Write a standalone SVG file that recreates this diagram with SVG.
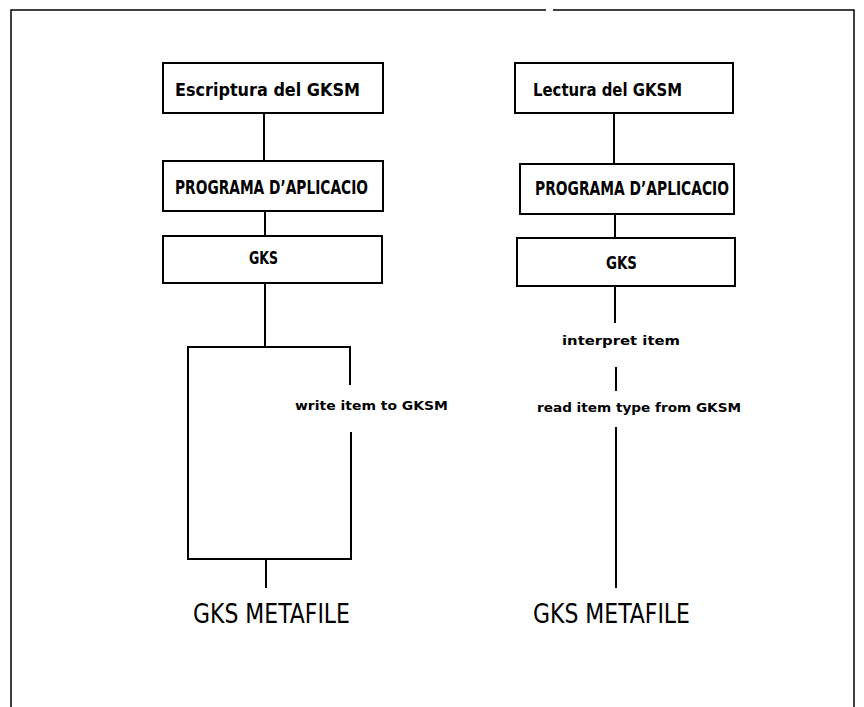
<svg xmlns="http://www.w3.org/2000/svg" width="864" height="707" viewBox="0 0 864 707">
<style>
.box{fill:#fff;stroke:#000;stroke-width:2}
.ln{fill:none;stroke:#000;stroke-width:2}
.frame{fill:none;stroke:#000;stroke-width:1.5}
.t{font-family:"DejaVu Sans Condensed","DejaVu Sans",sans-serif;font-weight:bold;fill:#000}
.big{font-family:"DejaVu Sans Condensed","DejaVu Sans",sans-serif;font-weight:normal;fill:#000;font-size:27px}
</style>
<rect width="864" height="707" fill="#fff"/>
<g id="frame">
<path class="frame" d="M11,707 V10 H546 M553,10 H854 V707"/>
</g>
<g id="connectors">
<path class="ln" d="M264,113 V161 M265,211 V236 M265,283 V347 M266,559 V588"/>
<path class="ln" d="M614,113 V164 M615,214 V238 M615,286 V323 M616,367 V391 M616,427 V588"/>
</g>
<g id="escriptura">
<rect class="box" x="163" y="63" width="220" height="50"/>
<text class="t" x="175" y="96" font-size="17" textLength="185" lengthAdjust="spacingAndGlyphs">Escriptura del GKSM</text>
</g>
<g id="programa-left">
<rect class="box" x="163" y="161" width="220" height="50"/>
<text class="t" x="175" y="194" font-size="20" textLength="193" lengthAdjust="spacingAndGlyphs">PROGRAMA D’APLICACIO</text>
</g>
<g id="gks-left">
<rect class="box" x="163" y="236" width="219" height="47"/>
<text class="t" x="249" y="264" font-size="18" textLength="29" lengthAdjust="spacingAndGlyphs">GKS</text>
</g>
<g id="write-loop">
<path class="ln" d="M350,385 V347 H188 V559 H351 V432"/>
<text class="t" x="295" y="410" font-size="13" textLength="153" lengthAdjust="spacingAndGlyphs">write item to GKSM</text>
</g>
<g id="metafile-left">
<text class="big" x="193" y="623" textLength="157" lengthAdjust="spacingAndGlyphs">GKS METAFILE</text>
</g>
<g id="lectura">
<rect class="box" x="515" y="63" width="218" height="50"/>
<text class="t" x="533" y="96" font-size="17" textLength="149" lengthAdjust="spacingAndGlyphs">Lectura del GKSM</text>
</g>
<g id="programa-right">
<rect class="box" x="520" y="164" width="214" height="50"/>
<text class="t" x="535" y="195" font-size="20" textLength="194" lengthAdjust="spacingAndGlyphs">PROGRAMA D’APLICACIO</text>
</g>
<g id="gks-right">
<rect class="box" x="517" y="238" width="218" height="48"/>
<text class="t" x="606" y="269" font-size="18" textLength="31" lengthAdjust="spacingAndGlyphs">GKS</text>
</g>
<g id="interpret">
<text class="t" x="562" y="345" font-size="13" textLength="118" lengthAdjust="spacingAndGlyphs">interpret item</text>
</g>
<g id="read">
<text class="t" x="537" y="412" font-size="13" textLength="204" lengthAdjust="spacingAndGlyphs">read item type from GKSM</text>
</g>
<g id="metafile-right">
<text class="big" x="533" y="623" textLength="157" lengthAdjust="spacingAndGlyphs">GKS METAFILE</text>
</g>
</svg>
